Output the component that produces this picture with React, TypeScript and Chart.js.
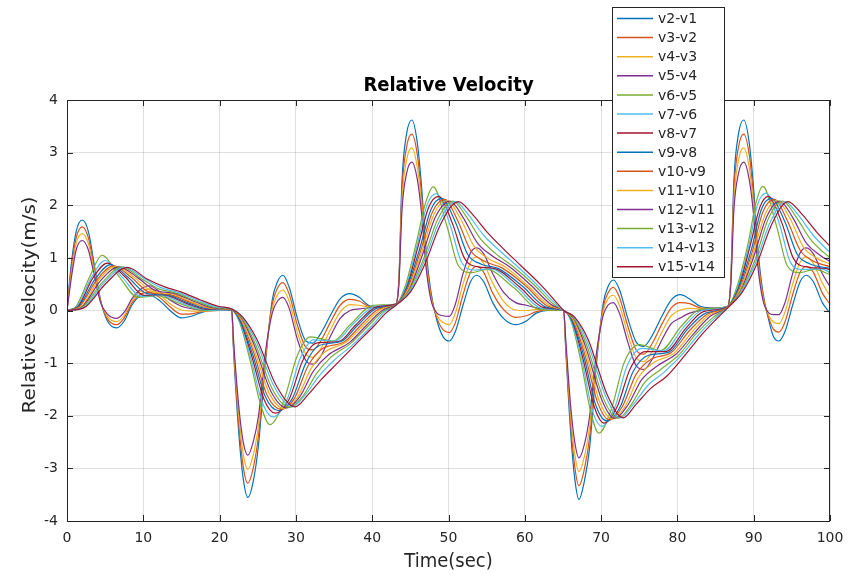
import React, { useEffect, useRef } from "react";
import { Chart, registerables } from "chart.js";

Chart.register(...registerables);

type Pt = [number, number];

// ---- data (time in sec, relative velocity in m/s) ----
const v2_v1: Pt[] = [
  [0, 0], [0.5, 0.8], [1.2, 1.5], [2.0, 1.72], [2.8, 1.5], [3.6, 0.85], [4.4, 0.2], [5.3, -0.2], [6.5, -0.33], [7.5, -0.2], [8.5, 0.1], [9.6, 0.27], [10.8, 0.29], [12.2, 0.18], [13.5, 0.0], [15.0, -0.14], [16.5, -0.1], [18.0, -0.02], [20.0, 0.0],
  [21.6, 0], [21.8, -0.68], [22.5, -2.3], [23.1, -3.2], [23.7, -3.55], [24.4, -3.25], [25.1, -2.55], [26.0, -1.0], [26.9, 0.2], [27.6, 0.55], [28.3, 0.67], [29.1, 0.45], [30.2, -0.15], [31.3, -0.58], [32.2, -0.62], [33.2, -0.45], [34.5, -0.1], [35.8, 0.22], [37.1, 0.32], [38.3, 0.25], [39.5, 0.1], [41.0, 0.06],
  [43.1, 0.12], [43.5, 0.6], [43.9, 2.45], [44.5, 3.35], [45.2, 3.62], [45.9, 3.2], [46.5, 2.3], [47.0, 1.25], [47.7, 0.35], [48.5, -0.2], [49.3, -0.5], [50.1, -0.58], [50.9, -0.4], [51.9, 0.1], [52.9, 0.55], [53.7, 0.67], [54.6, 0.55], [55.8, 0.15], [57.2, -0.15], [58.8, -0.27], [60.2, -0.2], [61.5, -0.05], [63.0, 0.0],
  [65.1, 0], [65.35, -0.7], [66.0, -2.3], [66.55, -3.2], [67.1, -3.59], [67.8, -3.25], [68.5, -2.6], [69.4, -1.0], [70.3, 0.15], [70.9, 0.45], [71.6, 0.58], [72.4, 0.4], [73.5, -0.15], [74.6, -0.6], [75.6, -0.68], [76.6, -0.5], [78.0, -0.1], [79.2, 0.2], [80.4, 0.3], [81.6, 0.22], [83.0, 0.08], [84.8, 0.05],
  [86.6, 0.08], [87.0, 0.6], [87.4, 2.45], [88.0, 3.35], [88.7, 3.62], [89.4, 3.2], [90.0, 2.3], [90.5, 1.25], [91.2, 0.35], [92.0, -0.2], [92.6, -0.5], [93.3, -0.58], [94.1, -0.4], [95.1, 0.1], [96.1, 0.55], [96.9, 0.67], [97.8, 0.55], [99.0, 0.15], [100, -0.05],
];

const v3_v2: Pt[] = [
  [0, 0], [0.5, 0.72], [1.2, 1.38], [2.0, 1.59], [2.8, 1.38], [3.6, 0.78], [4.4, 0.18], [5.3, -0.16], [6.5, -0.27], [7.5, -0.14], [8.5, 0.14], [9.6, 0.31], [10.8, 0.35], [12.2, 0.24], [13.5, 0.07], [15.0, -0.07], [16.5, -0.06], [18.0, -0.01], [20.0, 0.0],
  [21.6, 0], [21.8, -0.62], [22.5, -2.13], [23.1, -2.97], [23.7, -3.28], [24.4, -3.0], [25.1, -2.37], [26.0, -0.93], [26.9, 0.12], [27.6, 0.43], [28.3, 0.53], [29.1, 0.32], [30.2, -0.28], [31.3, -0.7], [32.2, -0.75], [33.2, -0.59], [34.5, -0.23], [35.8, 0.1], [37.1, 0.21], [38.3, 0.18], [39.5, 0.08], [41.0, 0.06],
  [43.1, 0.12], [43.5, 0.57], [43.9, 2.27], [44.5, 3.1], [45.2, 3.35], [45.9, 2.97], [46.5, 2.13], [47.0, 1.13], [47.7, 0.3], [48.5, -0.15], [49.3, -0.37], [50.1, -0.42], [50.9, -0.23], [51.9, 0.3], [52.9, 0.73], [53.7, 0.84], [54.6, 0.73], [55.8, 0.33], [57.2, 0.02], [58.8, -0.13], [60.2, -0.1], [61.5, -0.02], [63.0, 0.01],
  [65.1, 0], [65.35, -0.64], [66.0, -2.13], [66.55, -2.97], [67.1, -3.33], [67.8, -3.02], [68.5, -2.4], [69.4, -0.93], [70.3, 0.07], [70.9, 0.33], [71.6, 0.44], [72.4, 0.25], [73.5, -0.3], [74.6, -0.75], [75.6, -0.83], [76.6, -0.65], [78.0, -0.25], [79.2, 0.05], [80.4, 0.15], [81.6, 0.13], [83.0, 0.05], [84.8, 0.04],
  [86.6, 0.08], [87.0, 0.57], [87.4, 2.27], [88.0, 3.1], [88.7, 3.35], [89.4, 2.97], [90.0, 2.13], [90.5, 1.13], [91.2, 0.3], [92.0, -0.15], [92.6, -0.36], [93.3, -0.41], [94.1, -0.22], [95.1, 0.3], [96.1, 0.73], [96.9, 0.84], [97.8, 0.73], [99.0, 0.33], [100, 0.12],
];

const v4_v3: Pt[] = [
  [0, 0], [0.5, 0.63], [1.2, 1.27], [2.0, 1.46], [2.8, 1.27], [3.6, 0.72], [4.4, 0.17], [5.3, -0.11], [6.5, -0.21], [7.5, -0.09], [8.5, 0.18], [9.6, 0.36], [10.8, 0.41], [12.2, 0.29], [13.5, 0.13], [15.0, 0.01], [16.5, -0.01], [18.0, -0.01], [20.0, 0.0],
  [21.6, 0], [21.8, -0.56], [22.5, -1.97], [23.1, -2.73], [23.7, -3.02], [24.4, -2.75], [25.1, -2.18], [26.0, -0.87], [26.9, 0.03], [27.6, 0.3], [28.3, 0.39], [29.1, 0.18], [30.2, -0.42], [31.3, -0.83], [32.2, -0.89], [33.2, -0.74], [34.5, -0.37], [35.8, -0.03], [37.1, 0.11], [38.3, 0.1], [39.5, 0.07], [41.0, 0.07],
  [43.1, 0.12], [43.5, 0.53], [43.9, 2.08], [44.5, 2.85], [45.2, 3.09], [45.9, 2.73], [46.5, 1.97], [47.0, 1.02], [47.7, 0.25], [48.5, -0.1], [49.3, -0.23], [50.1, -0.27], [50.9, -0.05], [51.9, 0.5], [52.9, 0.92], [53.7, 1.02], [54.6, 0.9], [55.8, 0.52], [57.2, 0.18], [58.8, 0.01], [60.2, 0.0], [61.5, 0.02], [63.0, 0.01],
  [65.1, 0], [65.35, -0.58], [66.0, -1.97], [66.55, -2.73], [67.1, -3.06], [67.8, -2.78], [68.5, -2.2], [69.4, -0.87], [70.3, 0.0], [70.9, 0.22], [71.6, 0.29], [72.4, 0.1], [73.5, -0.45], [74.6, -0.9], [75.6, -0.97], [76.6, -0.8], [78.0, -0.4], [79.2, -0.1], [80.4, 0.01], [81.6, 0.04], [83.0, 0.03], [84.8, 0.04],
  [86.6, 0.08], [87.0, 0.53], [87.4, 2.08], [88.0, 2.85], [88.7, 3.09], [89.4, 2.73], [90.0, 1.97], [90.5, 1.02], [91.2, 0.25], [92.0, -0.1], [92.6, -0.22], [93.3, -0.25], [94.1, -0.03], [95.1, 0.5], [96.1, 0.92], [96.9, 1.02], [97.8, 0.9], [99.0, 0.52], [100, 0.28],
];

const v5_v4: Pt[] = [
  [0, 0], [0.5, 0.55], [1.2, 1.15], [2.0, 1.33], [2.8, 1.15], [3.6, 0.65], [4.4, 0.15], [5.3, -0.07], [6.5, -0.15], [7.5, -0.03], [8.5, 0.22], [9.6, 0.4], [10.8, 0.47], [12.2, 0.35], [13.5, 0.2], [15.0, 0.08], [16.5, 0.03], [18.0, 0.0], [20.0, 0.0],
  [21.6, 0], [21.8, -0.5], [22.5, -1.8], [23.1, -2.5], [23.7, -2.75], [24.4, -2.5], [25.1, -2.0], [26.0, -0.8], [26.9, -0.05], [27.6, 0.18], [28.3, 0.25], [29.1, 0.05], [30.2, -0.55], [31.3, -0.95], [32.2, -1.02], [33.2, -0.88], [34.5, -0.5], [35.8, -0.15], [37.1, 0.0], [38.3, 0.03], [39.5, 0.05], [41.0, 0.07],
  [43.1, 0.12], [43.5, 0.5], [43.9, 1.9], [44.5, 2.6], [45.2, 2.82], [45.9, 2.5], [46.5, 1.8], [47.0, 0.9], [47.7, 0.2], [48.5, -0.05], [49.3, -0.1], [50.1, -0.11], [50.9, 0.12], [51.9, 0.7], [52.9, 1.1], [53.7, 1.19], [54.6, 1.08], [55.8, 0.7], [57.2, 0.35], [58.8, 0.15], [60.2, 0.1], [61.5, 0.05], [63.0, 0.02],
  [65.1, 0], [65.35, -0.52], [66.0, -1.8], [66.55, -2.5], [67.1, -2.8], [67.8, -2.55], [68.5, -2.0], [69.4, -0.8], [70.3, -0.08], [70.9, 0.1], [71.6, 0.15], [72.4, -0.05], [73.5, -0.6], [74.6, -1.05], [75.6, -1.12], [76.6, -0.95], [78.0, -0.55], [79.2, -0.25], [80.4, -0.14], [81.6, -0.05], [83.0, 0.0], [84.8, 0.03],
  [86.6, 0.08], [87.0, 0.5], [87.4, 1.9], [88.0, 2.6], [88.7, 2.82], [89.4, 2.5], [90.0, 1.8], [90.5, 0.9], [91.2, 0.2], [92.0, -0.05], [92.6, -0.08], [93.3, -0.08], [94.1, 0.15], [95.1, 0.7], [96.1, 1.1], [96.9, 1.19], [97.8, 1.08], [99.0, 0.7], [100, 0.45],
];

const v6_v5: Pt[] = [
  [0, 0], [1.2, 0.08], [3.0, 0.65], [4.6, 1.05], [6.8, 0.65], [9.3, 0.25], [11.8, 0.28], [15.0, 0.12], [18.0, 0.0],
  [21.6, 0.0], [22.6, -0.22], [24.0, -0.95], [25.3, -1.75], [26.6, -2.17], [28.4, -1.72], [30.2, -0.85], [31.9, -0.5], [34.9, -0.58], [37.1, -0.27], [40.2, 0.1],
  [43.1, 0.12], [44.3, 0.45], [45.8, 1.3], [47.0, 2.05], [48.0, 2.35], [49.8, 1.6], [51.3, 0.85], [53.0, 0.72], [55.0, 0.78], [58.5, 0.44], [62.0, 0.02],
  [65.1, 0.0], [66.1, -0.22], [67.4, -1.0], [68.6, -1.9], [69.7, -2.33], [71.4, -1.85], [73.0, -1.0], [75.0, -0.65], [77.8, -0.76], [80.5, -0.3], [83.0, 0.02],
  [86.6, 0.08], [87.8, 0.45], [89.3, 1.3], [90.3, 2.05], [91.2, 2.36], [93.0, 1.6], [94.4, 0.85], [96.0, 0.72], [98.0, 0.78], [100, 0.68],
];

const v7_v6: Pt[] = [
  [0, 0], [1.3, 0.08], [3.2, 0.63], [5.0, 0.95], [7.2, 0.64], [9.7, 0.27], [12.2, 0.29], [15.3, 0.13], [18.2, 0.01],
  [21.6, 0.0], [22.6, -0.21], [24.1, -0.91], [25.5, -1.71], [27.0, -2.02], [28.8, -1.71], [30.6, -0.9], [32.3, -0.56], [35.2, -0.58], [37.4, -0.27], [40.4, 0.08],
  [43.1, 0.12], [44.4, 0.44], [45.9, 1.25], [47.2, 2.01], [48.4, 2.22], [50.2, 1.63], [51.7, 0.92], [53.4, 0.77], [55.5, 0.79], [58.9, 0.45], [62.2, 0.04],
  [65.1, 0.0], [66.1, -0.21], [67.5, -0.95], [68.8, -1.87], [70.1, -2.2], [71.8, -1.84], [73.4, -1.05], [75.4, -0.72], [78.2, -0.77], [80.8, -0.32], [83.2, 0.0],
  [86.6, 0.08], [87.9, 0.44], [89.4, 1.25], [90.5, 2.01], [91.6, 2.23], [93.4, 1.63], [94.8, 0.92], [96.4, 0.78], [98.9, 0.79], [100, 0.72],
];

const v8_v7: Pt[] = [
  [0, 0], [1.4, 0.07], [3.4, 0.62], [5.3, 0.9], [7.6, 0.64], [10.1, 0.29], [12.5, 0.3], [15.6, 0.14], [18.4, 0.02],
  [21.6, 0.01], [22.7, -0.2], [24.2, -0.86], [25.8, -1.68], [27.3, -1.95], [29.1, -1.69], [30.9, -0.95], [32.7, -0.62], [35.6, -0.59], [37.8, -0.28], [40.6, 0.07],
  [43.1, 0.12], [44.5, 0.43], [46.0, 1.21], [47.4, 1.96], [48.7, 2.17], [50.5, 1.66], [52.1, 0.99], [53.9, 0.83], [56.0, 0.8], [59.3, 0.45], [62.4, 0.06],
  [65.1, 0.0], [66.2, -0.2], [67.6, -0.9], [69.1, -1.83], [70.4, -2.14], [72.1, -1.83], [73.8, -1.11], [75.8, -0.78], [78.5, -0.78], [81.1, -0.34], [83.4, -0.02],
  [86.6, 0.07], [88.0, 0.43], [89.5, 1.21], [90.8, 1.96], [91.9, 2.17], [93.7, 1.66], [95.2, 0.99], [96.9, 0.83], [99.4, 0.8], [100, 0.77],
];

const v9_v8: Pt[] = [
  [0, 0], [1.5, 0.07], [3.7, 0.6], [5.7, 0.87], [8.0, 0.63], [10.5, 0.32], [12.9, 0.3], [15.8, 0.15], [18.6, 0.03],
  [21.6, 0.01], [22.7, -0.19], [24.3, -0.82], [26.0, -1.64], [27.7, -1.9], [29.5, -1.68], [31.3, -1.0], [33.0, -0.67], [35.9, -0.59], [38.1, -0.28], [40.7, 0.05],
  [43.1, 0.11], [44.5, 0.42], [46.2, 1.16], [47.7, 1.92], [49.1, 2.13], [50.9, 1.68], [52.5, 1.07], [54.3, 0.88], [56.5, 0.8], [59.7, 0.46], [62.7, 0.07],
  [65.1, 0.0], [66.2, -0.19], [67.7, -0.85], [69.3, -1.8], [70.8, -2.1], [72.5, -1.83], [74.2, -1.16], [76.2, -0.85], [78.9, -0.79], [81.3, -0.36], [83.7, -0.05],
  [86.6, 0.07], [88.0, 0.42], [89.7, 1.16], [91.0, 1.92], [92.3, 2.13], [94.1, 1.68], [95.7, 1.07], [97.3, 0.89], [100, 0.8],
];

const v10_v9: Pt[] = [
  [0, 0], [1.6, 0.07], [3.9, 0.58], [6.1, 0.85], [8.4, 0.63], [10.9, 0.34], [13.2, 0.31], [16.1, 0.16], [18.8, 0.04],
  [21.6, 0.01], [22.8, -0.18], [24.4, -0.77], [26.2, -1.6], [28.1, -1.88], [29.8, -1.67], [31.6, -1.05], [33.4, -0.73], [36.3, -0.6], [38.5, -0.28], [40.9, 0.03],
  [43.1, 0.11], [44.6, 0.41], [46.3, 1.11], [47.9, 1.87], [49.5, 2.11], [51.2, 1.71], [52.9, 1.14], [54.8, 0.93], [57.0, 0.81], [60.1, 0.47], [62.9, 0.09],
  [65.1, 0.0], [66.3, -0.18], [67.8, -0.8], [69.6, -1.77], [71.1, -2.08], [72.8, -1.82], [74.6, -1.21], [76.6, -0.92], [79.2, -0.8], [81.6, -0.38], [83.9, -0.07],
  [86.6, 0.07], [88.1, 0.41], [89.8, 1.11], [91.2, 1.87], [92.7, 2.11], [94.4, 1.71], [96.1, 1.14], [97.8, 0.94], [100, 0.83],
];

const v11_v10: Pt[] = [
  [0, 0], [1.8, 0.06], [4.1, 0.57], [6.4, 0.84], [8.9, 0.62], [11.2, 0.36], [13.6, 0.32], [16.4, 0.16], [19.0, 0.04],
  [21.6, 0.02], [22.8, -0.16], [24.5, -0.73], [26.5, -1.57], [28.4, -1.86], [30.2, -1.65], [32.0, -1.1], [33.8, -0.79], [36.6, -0.6], [38.8, -0.29], [41.1, 0.02],
  [43.1, 0.11], [44.7, 0.39], [46.4, 1.07], [48.1, 1.83], [49.8, 2.09], [51.6, 1.74], [53.4, 1.21], [55.2, 0.99], [57.5, 0.82], [60.4, 0.47], [63.1, 0.11],
  [65.1, 0.0], [66.3, -0.16], [67.9, -0.75], [69.8, -1.73], [71.5, -2.06], [73.2, -1.81], [74.9, -1.27], [77.0, -0.98], [79.6, -0.81], [81.9, -0.41], [84.1, -0.09],
  [86.6, 0.06], [88.2, 0.39], [89.9, 1.07], [91.5, 1.83], [93.0, 2.09], [94.8, 1.74], [96.5, 1.21], [98.2, 1.0], [100, 0.88],
];

const v12_v11: Pt[] = [
  [0, 0], [1.9, 0.06], [4.3, 0.55], [6.8, 0.83], [9.3, 0.62], [11.6, 0.38], [13.9, 0.33], [16.7, 0.17], [19.2, 0.05],
  [21.6, 0.02], [22.9, -0.15], [24.6, -0.68], [26.7, -1.53], [28.8, -1.85], [30.5, -1.64], [32.3, -1.15], [34.2, -0.85], [37.0, -0.61], [39.2, -0.29], [41.3, 0.0],
  [43.1, 0.11], [44.8, 0.38], [46.5, 1.02], [48.3, 1.78], [50.2, 2.08], [51.9, 1.77], [53.8, 1.28], [55.7, 1.04], [58.0, 0.83], [60.8, 0.48], [63.3, 0.13],
  [65.1, 0.0], [66.4, -0.15], [68.0, -0.7], [70.1, -1.7], [71.8, -2.05], [73.5, -1.8], [75.3, -1.32], [77.4, -1.05], [79.9, -0.82], [82.2, -0.43], [84.3, -0.11],
  [86.6, 0.06], [88.3, 0.38], [90.0, 1.02], [91.7, 1.78], [93.4, 2.08], [95.1, 1.77], [96.9, 1.28], [98.7, 1.05], [100, 0.93],
];

const v13_v12: Pt[] = [
  [0, 0], [2.0, 0.06], [4.6, 0.53], [7.2, 0.83], [9.7, 0.61], [12.0, 0.41], [14.3, 0.33], [16.9, 0.18], [19.4, 0.06],
  [21.6, 0.02], [22.9, -0.14], [24.7, -0.64], [26.9, -1.49], [29.2, -1.84], [30.9, -1.63], [32.7, -1.2], [34.5, -0.9], [37.3, -0.61], [39.5, -0.29], [41.4, -0.02],
  [43.1, 0.1], [44.8, 0.37], [46.7, 0.97], [48.6, 1.74], [50.6, 2.08], [52.3, 1.79], [54.2, 1.36], [56.1, 1.09], [58.5, 0.83], [61.2, 0.49], [63.6, 0.14],
  [65.1, 0.0], [66.4, -0.14], [68.1, -0.65], [70.3, -1.67], [72.2, -2.05], [73.9, -1.8], [75.7, -1.37], [77.8, -1.12], [80.3, -0.83], [82.4, -0.45], [84.6, -0.14],
  [86.6, 0.06], [88.3, 0.37], [90.2, 0.97], [91.9, 1.74], [93.8, 2.08], [95.5, 1.79], [97.4, 1.36], [99.1, 1.11], [100, 1.01],
];

const v14_v13: Pt[] = [
  [0, 0], [2.1, 0.05], [4.8, 0.52], [7.5, 0.82], [10.1, 0.61], [12.4, 0.43], [14.6, 0.34], [17.2, 0.19], [19.6, 0.07],
  [21.6, 0.03], [23.0, -0.13], [24.8, -0.59], [27.2, -1.46], [29.5, -1.83], [31.2, -1.61], [33.0, -1.25], [34.9, -0.96], [37.7, -0.62], [39.9, -0.3], [41.6, -0.03],
  [43.1, 0.1], [44.9, 0.36], [46.8, 0.93], [48.8, 1.69], [50.9, 2.07], [52.6, 1.82], [54.6, 1.43], [56.6, 1.15], [59.0, 0.84], [61.6, 0.49], [63.8, 0.16],
  [65.1, 0.0], [66.5, -0.13], [68.2, -0.6], [70.6, -1.63], [72.5, -2.04], [74.2, -1.79], [76.1, -1.43], [78.2, -1.18], [80.6, -0.84], [82.7, -0.47], [84.8, -0.16],
  [86.6, 0.05], [88.4, 0.36], [90.3, 0.93], [92.2, 1.69], [94.1, 2.07], [95.8, 1.82], [97.8, 1.43], [99.6, 1.16], [100, 1.11],
];

const v15_v14: Pt[] = [
  [0, 0], [2.2, 0.05], [5.0, 0.5], [7.9, 0.82], [10.5, 0.6], [12.8, 0.45], [15.0, 0.35], [17.5, 0.2], [19.8, 0.08],
  [21.6, 0.03], [23.0, -0.12], [24.9, -0.55], [27.4, -1.42], [29.9, -1.83], [31.6, -1.6], [33.4, -1.3], [35.3, -1.02], [38.0, -0.62], [40.2, -0.3], [41.8, -0.05],
  [43.1, 0.1], [45.0, 0.35], [46.9, 0.88], [49.0, 1.65], [51.3, 2.07], [53.0, 1.85], [55.0, 1.5], [57.0, 1.2], [59.5, 0.85], [62.0, 0.5], [64.0, 0.18],
  [65.1, 0.0], [66.5, -0.12], [68.3, -0.55], [70.8, -1.6], [72.9, -2.04], [74.6, -1.78], [76.5, -1.48], [78.6, -1.25], [81.0, -0.85], [83.0, -0.49], [85.0, -0.18],
  [86.6, 0.05], [88.5, 0.35], [90.4, 0.88], [92.4, 1.65], [94.5, 2.07], [96.2, 1.85], [98.2, 1.5], [100, 1.22],
];

const SERIES_LABELS = [
  "v2-v1", "v3-v2", "v4-v3", "v5-v4", "v6-v5", "v7-v6", "v8-v7",
  "v9-v8", "v10-v9", "v11-v10", "v12-v11", "v13-v12", "v14-v13", "v15-v14",
];
const SERIES_DATA: Pt[][] = [
  v2_v1, v3_v2, v4_v3, v5_v4, v6_v5, v7_v6, v8_v7,
  v9_v8, v10_v9, v11_v10, v12_v11, v13_v12, v14_v13, v15_v14,
];
const PALETTE = ["#0072BD", "#D95319", "#EDB120", "#7E2F8E", "#77AC30", "#4DBEEE", "#A2142F"];

const X_TICKS = [0, 10, 20, 30, 40, 50, 60, 70, 80, 90, 100];
const Y_TICKS = [-4, -3, -2, -1, 0, 1, 2, 3, 4];

const TITLE = "Relative Velocity";
const X_LABEL = "Time(sec)";
const Y_LABEL = "Relative velocity(m/s)";

const FONT = "'DejaVu Sans', 'Noto Sans', sans-serif";
const AXIS_COLOR = "#262626";
const V_STRETCH = 1.11;

const decorPlugin = {
  id: "matlabDecor",
  afterDatasetsDraw(chart: any) {
    const { ctx, chartArea, scales } = chart;
    const { left, right, top, bottom } = chartArea;
    const xs = scales.x;
    const ys = scales.y;
    ctx.save();
    // box
    ctx.strokeStyle = AXIS_COLOR;
    ctx.lineWidth = 1;
    ctx.strokeRect(Math.round(left) + 0.5, Math.round(top) + 0.5, Math.round(right - left) - 1, Math.round(bottom - top));
    // inward ticks
    const tl = 6;
    ctx.beginPath();
    for (const v of X_TICKS) {
      const px = Math.round(xs.getPixelForValue(v)) + 0.5;
      ctx.moveTo(px, bottom);
      ctx.lineTo(px, bottom - tl);
      ctx.moveTo(px, top);
      ctx.lineTo(px, top + tl);
    }
    for (const v of Y_TICKS) {
      const py = Math.round(ys.getPixelForValue(v)) + 0.5;
      ctx.moveTo(left, py);
      ctx.lineTo(left + tl, py);
      ctx.moveTo(right, py);
      ctx.lineTo(right - tl, py);
    }
    ctx.stroke();

    // title (slightly stretched vertically like the reference)
    ctx.fillStyle = "#000";
    ctx.font = `bold 18px ${FONT}`;
    ctx.textAlign = "center";
    ctx.textBaseline = "alphabetic";
    ctx.save();
    ctx.translate((left + right) / 2, 91);
    ctx.scale(1, V_STRETCH);
    ctx.fillText(TITLE, 0, 0);
    ctx.restore();

    // x label
    ctx.fillStyle = AXIS_COLOR;
    ctx.font = `18px ${FONT}`;
    ctx.save();
    ctx.translate((left + right) / 2, 567);
    ctx.scale(1, V_STRETCH);
    ctx.fillText(X_LABEL, 0, 0);
    ctx.restore();

    // y label
    ctx.save();
    ctx.translate(35, 305);
    ctx.rotate(-Math.PI / 2);
    ctx.scale(V_STRETCH, 1);
    ctx.fillText(Y_LABEL, 0, 0);
    ctx.restore();

    // legend
    const lx = 612, ly = 7, lw = 112, lh = 270;
    ctx.fillStyle = "#fff";
    ctx.fillRect(lx, ly, lw, lh);
    ctx.strokeStyle = AXIS_COLOR;
    ctx.lineWidth = 1;
    ctx.strokeRect(lx + 0.5, ly + 0.5, lw, lh);
    ctx.font = `14px ${FONT}`;
    ctx.textAlign = "left";
    ctx.textBaseline = "middle";
    SERIES_LABELS.forEach((lab, i) => {
      const cy = 18.5 + i * 19.1;
      ctx.strokeStyle = PALETTE[i % PALETTE.length];
      ctx.lineWidth = 1.5;
      ctx.beginPath();
      ctx.moveTo(617, cy);
      ctx.lineTo(653, cy);
      ctx.stroke();
      ctx.fillStyle = AXIS_COLOR;
      ctx.fillText(lab, 658, cy + 1);
    });
    ctx.restore();
  },
};

export default function App() {
  const canvasRef = useRef<HTMLCanvasElement | null>(null);

  useEffect(() => {
    const canvas = canvasRef.current;
    if (!canvas) return;
    const datasets = SERIES_DATA.map((pts, i) => ({
      label: SERIES_LABELS[i],
      data: pts.map(([x, y]) => ({ x, y })),
      borderColor: PALETTE[i % PALETTE.length],
      backgroundColor: PALETTE[i % PALETTE.length],
      borderWidth: 1.2,
      pointRadius: 0,
      fill: false,
      cubicInterpolationMode: "monotone" as const,
      order: SERIES_DATA.length - i,
    }));
    const chart = new Chart(canvas, {
      type: "line",
      data: { datasets },
      options: {
        responsive: false,
        animation: false,
        events: [],
        layout: { padding: { left: 0, right: 32, top: 100, bottom: 0 } },
        plugins: {
          legend: { display: false },
          title: { display: false },
          tooltip: { enabled: false },
        },
        scales: {
          x: {
            type: "linear",
            min: 0,
            max: 100,
            afterFit: (s: any) => { s.height = 55; },
            afterBuildTicks: (s: any) => { s.ticks = X_TICKS.map((v) => ({ value: v })); },
            ticks: {
              color: AXIS_COLOR,
              font: { family: FONT, size: 14 },
              padding: 9,
              maxRotation: 0,
              autoSkip: false,
            },
            grid: { color: "rgba(38,38,38,0.14)", drawTicks: false, lineWidth: 1 },
            border: { display: false },
          },
          y: {
            type: "linear",
            min: -4,
            max: 4,
            afterFit: (s: any) => { s.width = 67; },
            afterBuildTicks: (s: any) => { s.ticks = Y_TICKS.map((v) => ({ value: v })); },
            ticks: {
              color: AXIS_COLOR,
              font: { family: FONT, size: 14 },
              padding: 9,
              autoSkip: false,
            },
            grid: { color: "rgba(38,38,38,0.14)", drawTicks: false, lineWidth: 1 },
            border: { display: false },
          },
        },
      },
      plugins: [decorPlugin],
    });
    return () => chart.destroy();
  }, []);

  return (
    <div style={{ position: "absolute", left: 0, top: 0, width: 862, height: 576, background: "#fff" }}>
      <canvas ref={canvasRef} width={862} height={576} style={{ display: "block" }} />
    </div>
  );
}
